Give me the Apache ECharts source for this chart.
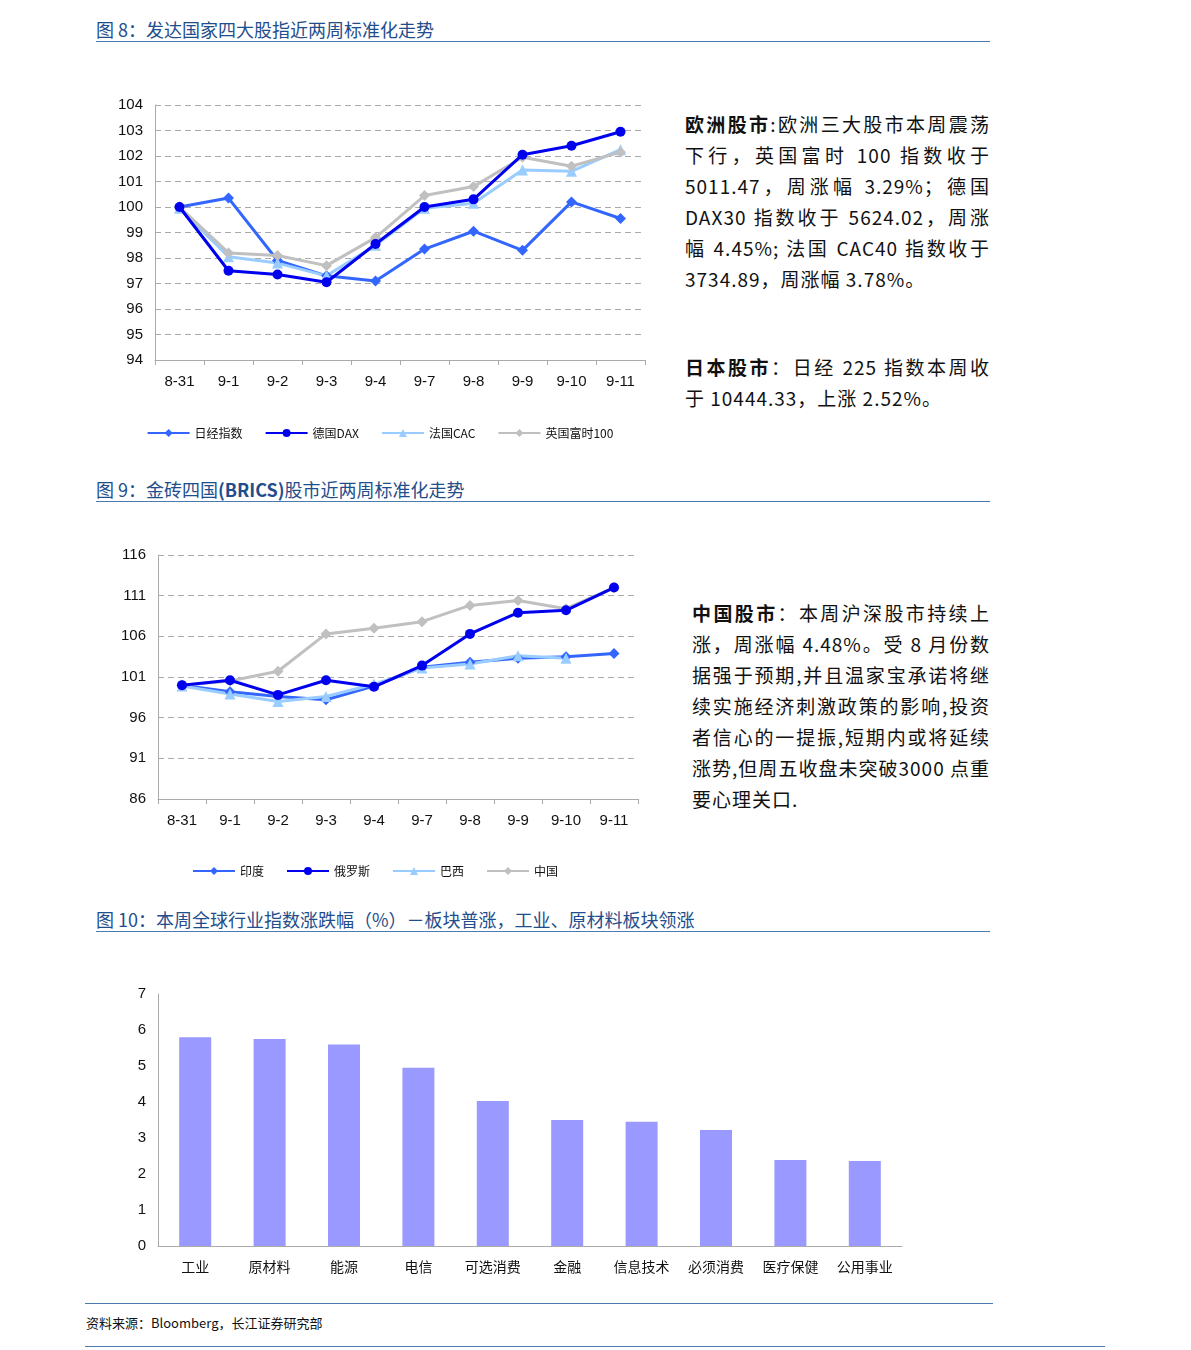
<html>
<head>
<meta charset="utf-8">
<title>chart</title>
<script src="https://cdn.jsdelivr.net/npm/echarts@6/dist/echarts.min.js"></script>
<style>
  body { margin:0; width:1191px; height:1350px; position:relative; background:#fff; font-family:"Noto Sans CJK SC","Liberation Sans",sans-serif; }
  .ttl { position:absolute; left:96px; width:894px; color:#1f4e8c; font-size:18px; border-bottom:1px solid #4a7ab0; line-height:24px; }
  .txt { position:absolute; font-size:19px; line-height:31px; color:#111; text-align:justify; letter-spacing:1px; }
  .chart { position:absolute; }
  .rule { position:absolute; border-top:1px solid #4a7ab0; }
</style>
</head>
<body>
<div class="ttl" style="top:17px">图 8：发达国家四大股指近两周标准化走势</div>
<div class="ttl" style="top:477px">图 9：金砖四国<b>(BRICS)</b>股市近两周标准化走势</div>
<div class="ttl" style="top:907px">图 10：本周全球行业指数涨跌幅（%）－板块普涨，工业、原材料板块领涨</div>

<div id="c1" class="chart" style="left:100px;top:90px;width:560px;height:360px"></div>
<div id="c2" class="chart" style="left:100px;top:540px;width:550px;height:350px"></div>
<div id="c3" class="chart" style="left:100px;top:980px;width:820px;height:310px"></div>

<div class="txt" style="left:685px;top:108px;width:305px"><b>欧洲股市</b>:欧洲三大股市本周震荡下行，英国富时 100 指数收于5011.47，周涨幅 3.29%；德国DAX30 指数收于 5624.02，周涨幅 4.45%; 法国 CAC40 指数收于3734.89，周涨幅 3.78%。</div>
<div class="txt" style="left:685px;top:351px;width:305px"><b>日本股市</b>：日经 225 指数本周收于 10444.33，上涨 2.52%。</div>
<div class="txt" style="left:692px;top:597px;width:298px"><b>中国股市</b>：本周沪深股市持续上涨，周涨幅 4.48%。受 8 月份数据强于预期,并且温家宝承诺将继续实施经济刺激政策的影响,投资者信心的一提振,短期内或将延续涨势,但周五收盘未突破3000 点重要心理关口.</div>

<div class="rule" style="left:85px;top:1303px;width:908px"></div>
<div style="position:absolute;left:86px;top:1313px;font-size:13px;color:#111">资料来源：Bloomberg，长江证券研究部</div>
<div class="rule" style="left:85px;top:1346px;width:1020px"></div>

<script>
var days = ["8-31","9-1","9-2","9-3","9-4","9-7","9-8","9-9","9-10","9-11"];
var nikkei = [100, 100.35, 97.9, 97.3, 97.1, 98.35, 99.05, 98.3, 100.2, 99.55];
var dax = [100, 97.5, 97.35, 97.05, 98.55, 100.0, 100.3, 102.05, 102.4, 102.95];
var cac = [99.95, 98.05, 97.8, 97.3, 98.5, 99.95, 100.15, 101.45, 101.4, 102.25];
var ftse = [100, 98.2, 98.1, 97.7, 98.8, 100.45, 100.8, 101.95, 101.6, 102.15];

var india = [100, 99.2, 98.6, 98.2, 99.9, 102.2, 102.8, 103.3, 103.5, 103.9];
var russia = [100, 100.6, 98.8, 100.6, 99.8, 102.4, 106.3, 108.9, 109.2, 112];
var brazil = [99.9, 98.9, 98.0, 98.6, 100.1, 102.1, 102.6, 103.6, 103.3, null];
var china = [100, 100.5, 101.7, 106.3, 107, 107.8, 109.8, 110.4, 109.4, 112];

var sectors = ["工业","原材料","能源","电信","可选消费","金融","信息技术","必须消费","医疗保健","公用事业"];
var sectorChg = [5.8, 5.75, 5.6, 4.95, 4.03, 3.5, 3.45, 3.22, 2.39, 2.36];

var colors = ["#3366ff", "#0000ee", "#99ccff", "#c0c0c0"];
var symbols = ["diamond", "circle", "triangle", "diamond"];
var axisTxt = { color:"#111", fontSize:15, fontFamily:"Liberation Sans" };

function lineSeries(names, data) {
  return names.map(function (n, i) {
    return { name:n, type:"line", data:data[i], symbol:symbols[i], symbolSize: i == 1 ? 10 : 11,
      lineStyle:{ color:colors[i], width:3 }, itemStyle:{ color:colors[i] }, z: i == 1 ? 3 : 2 };
  });
}
function lineOpt(names, data, min, max, step, grid, legendBottom) {
  return {
    animation:false,
    color:colors,
    grid:grid,
    legend:{ bottom:legendBottom, left:"center", itemWidth:42, itemHeight:10, itemGap:22,
      textStyle:{ fontSize:12, color:"#111", fontFamily:"Noto Sans CJK SC" }, data:names },
    xAxis:{ type:"category", data:days, boundaryGap:true,
      axisLine:{ lineStyle:{ color:"#aaa" } }, axisTick:{ show:true, lineStyle:{ color:"#aaa" } },
      axisLabel:Object.assign({ margin:14 }, axisTxt) },
    yAxis:{ type:"value", min:min, max:max, interval:step,
      axisLine:{ show:true, lineStyle:{ color:"#aaa" } }, axisTick:{ show:false },
      splitLine:{ lineStyle:{ color:"#aaa", type:[6,4] } }, axisLabel:Object.assign({ margin:12 }, axisTxt) },
    series:lineSeries(names, data)
  };
}

echarts.init(document.getElementById("c1")).setOption(
  lineOpt(["日经指数","德国DAX","法国CAC","英国富时100"], [nikkei, dax, cac, ftse], 94, 104, 1,
    { left:55, right:15, top:15, height:255 }, 6));
echarts.init(document.getElementById("c2")).setOption(
  lineOpt(["印度","俄罗斯","巴西","中国"], [india, russia, brazil, china], 86, 116, 5,
    { left:58, right:12, top:15, height:244 }, 8));

echarts.init(document.getElementById("c3")).setOption({
  animation:false,
  grid:{ left:58, right:18, top:14, height:252 },
  xAxis:{ type:"category", data:sectors,
    axisLine:{ lineStyle:{ color:"#aaa" } }, axisTick:{ lineStyle:{ color:"#aaa" } },
    axisLabel:{ color:"#111", fontSize:14, margin:14, interval:0, fontFamily:"Noto Sans CJK SC" } },
  yAxis:{ type:"value", min:0, max:7, interval:1,
    axisLine:{ show:true, lineStyle:{ color:"#aaa" } }, splitLine:{ show:false },
    axisLabel:Object.assign({ margin:12 }, axisTxt) },
  series:[{ type:"bar", data:sectorChg, barWidth:32, itemStyle:{ color:"#9999ff" } }]
});
</script>
</body>
</html>
